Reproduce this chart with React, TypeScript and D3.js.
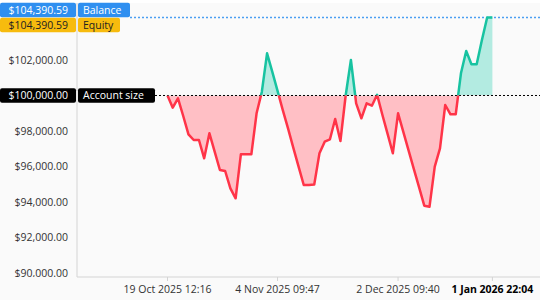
import React from "react";
import * as d3 from "d3";

const values: number[] = [
  100000, 99313, 99842, 98845, 97814, 97493, 97493, 96462, 97870, 96834,
  95803, 95746, 94772, 94208, 96687, 96687, 96687, 98997, 100200, 102377,
  101330, 100260, 99180, 98150, 97060, 96010, 94958, 94958, 94980, 96744,
  97397, 97532, 98676, 97437, 100000, 102000, 99560, 98715, 99561, 99425,
  100040, 98918, 97837, 96744, 98997, 97955, 96913, 95870, 94834, 93792,
  93735, 95989, 97025, 99465, 98941, 98941, 101251, 102507, 101758, 101758,
  103127, 104390.59, 104390.59,
];

const tickIndex: number[] = [0, 21, 44, 62];
const tickLabels: string[] = ["19 Oct 2025 12:16", "4 Nov 2025 09:47", "2 Dec 2025 09:40", "1 Jan 2026 22:04"];
const yTicks: number[] = [90000, 92000, 94000, 96000, 98000, 102000];
const accountSize = 100000;
const balance = 104390.59;
const equity = 104390.59;

const W = 545;
const H = 300;
const left = 77;
const right = 540;
const top = 3;
const bottom = 277;
const FONT = "'Open Sans', 'DejaVu Sans', sans-serif";

const fmt = (v: number) => "$" + d3.format(",.2f")(v);

export default function App() {
  const x = d3.scaleLinear().domain([0, values.length - 1]).range([167.5, 492.4]);
  const y = d3.scaleLinear().domain([89775, 105211]).range([bottom, top]);
  const base = y(accountSize);
  const data = values.map((v, i) => ({ i, v }));
  const line = d3.line<{ i: number; v: number }>().x((d) => x(d.i)).y((d) => y(d.v));
  const area = d3
    .area<{ i: number; v: number }>()
    .x((d) => x(d.i))
    .y0(base)
    .y1((d) => y(d.v));
  const lp = line(data) || "";
  const ap = area(data) || "";
  const by = y(balance);
  const ey = y(equity);

  const badge = (
    yc: number,
    value: string,
    label: string,
    bg: string,
    fg: string,
    labelW: number
  ) => (
    <g>
      <rect x={0} y={yc - 7.2} width={76} height={14.4} rx={2} fill={bg} />
      <rect x={78} y={yc - 7.2} width={labelW} height={14.4} rx={2} fill={bg} />
      <text x={68} y={yc} dy="0.35em" textAnchor="end" fill={fg} fontSize={10.5} fontFamily={FONT}>
        {value}
      </text>
      <text x={83} y={yc} dy="0.35em" fill={fg} fontSize={10.5} fontFamily={FONT}>
        {label}
      </text>
    </g>
  );

  return (
    <svg width={W} height={H} style={{ position: "absolute", left: 0, top: 0 }}>
      <rect x={0} y={0} width={W} height={H} fill="#ffffff" />
      <rect x={0} y={top} width={right} height={H - top} fill="#fafafa" />
      <defs>
        <clipPath id="above">
          <rect x={left} y={top} width={right - left} height={base - top} />
        </clipPath>
        <clipPath id="below">
          <rect x={left} y={base} width={right - left} height={bottom - base} />
        </clipPath>
        <clipPath id="ylab">
          <rect x={0} y={0} width={left} height={bottom} />
        </clipPath>
      </defs>
      {/* axes */}
      <line x1={left} x2={left} y1={top} y2={bottom} stroke="#d4d4d4" />
      <line x1={left} x2={right} y1={bottom} y2={bottom} stroke="#d4d4d4" />
      <g clipPath="url(#ylab)">
        {yTicks.map((t) => (
          <text key={t} x={68} y={y(t)} dy="0.35em" textAnchor="end" fill="#333" fontSize={10.5} fontFamily={FONT}>
            {fmt(t)}
          </text>
        ))}
      </g>
      {tickIndex.map((ti, k) => (
        <g key={ti}>
          <line x1={x(ti)} x2={x(ti)} y1={bottom} y2={bottom + 4} stroke="#d4d4d4" />
          <text
            x={x(ti)}
            y={289}
            dy="0.35em"
            textAnchor="middle"
            fill={k === tickLabels.length - 1 ? "#000" : "#333"}
            fontWeight={k === tickLabels.length - 1 ? 700 : 400}
            fontSize={10.5}
            fontFamily={FONT}
          >
            {tickLabels[k]}
          </text>
        </g>
      ))}
      {/* areas */}
      <path d={ap} fill="#b3ebe1" clipPath="url(#above)" />
      <path d={ap} fill="#ffbfc5" clipPath="url(#below)" />
      {/* reference lines */}
      <line x1={130} x2={right} y1={by} y2={by} stroke="#4b9ff2" strokeWidth={1.5} strokeDasharray="2,2" />
      <line x1={155} x2={right} y1={base} y2={base} stroke="#000" strokeWidth={1} strokeDasharray="2,2" />
      {/* lines */}
      <path d={lp} fill="none" stroke="#17c3a1" strokeWidth={2.5} strokeLinejoin="round" clipPath="url(#above)" />
      <path d={lp} fill="none" stroke="#ff3448" strokeWidth={2.5} strokeLinejoin="round" clipPath="url(#below)" />
      {/* badges */}
      {badge(by - 7.5, fmt(balance), "Balance", "#2f8ff0", "#fff", 52)}
      {badge(ey + 7.5, fmt(equity), "Equity", "#f7bb0e", "#222", 42)}
      {badge(base, fmt(accountSize), "Account size", "#000", "#fff", 77)}
    </svg>
  );
}
